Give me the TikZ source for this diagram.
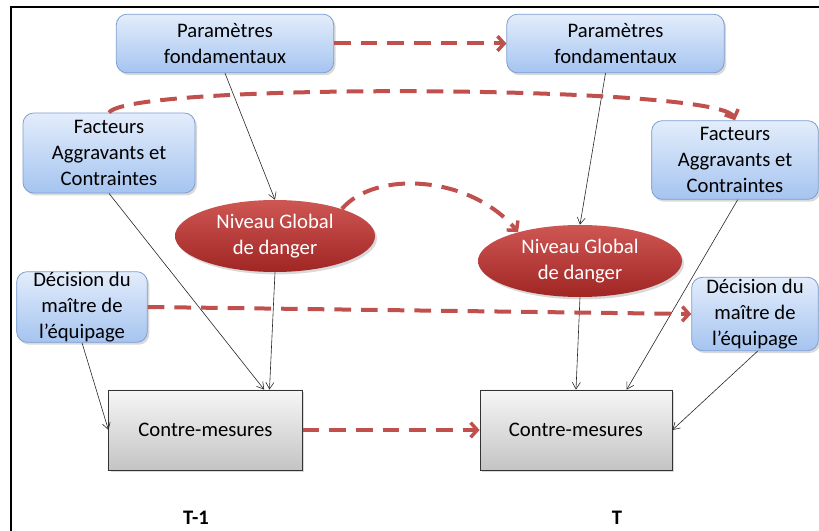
\documentclass[tikz,border=0pt]{standalone}
\usepackage{fontspec}
\setmainfont{Carlito}
\usepackage{tikz}
\usetikzlibrary{shapes,arrows.meta,positioning,shadows}

\definecolor{boxtop}{RGB}{227,237,251}
\definecolor{boxbot}{RGB}{165,196,240}
\definecolor{boxline}{RGB}{125,158,210}
\definecolor{elltop}{RGB}{206,86,83}
\definecolor{ellbot}{RGB}{160,38,36}
\definecolor{ctrtop}{RGB}{246,246,246}
\definecolor{ctrbot}{RGB}{196,196,196}
\definecolor{dashred}{RGB}{192,80,77}

\begin{document}
\begin{tikzpicture}[x=0.75pt,y=-0.75pt,
    txt/.style={font=\fontsize{15.5}{19.5}\selectfont, align=center, inner sep=0pt},
    bluebox/.style={txt, rectangle, rounded corners=8pt, draw=boxline, line width=0.6pt,
      top color=boxtop, bottom color=boxbot,
      drop shadow={shadow xshift=1.5pt, shadow yshift=-1.8pt, opacity=0.3}},
    dangerell/.style={txt, ellipse, draw=none, text=white,
      top color=elltop, bottom color=ellbot,
      drop shadow={shadow xshift=1.5pt, shadow yshift=-1.8pt, opacity=0.3}},
    ctrbox/.style={txt, rectangle, draw=black!80, line width=0.6pt,
      top color=ctrtop, bottom color=ctrbot,
      drop shadow={shadow xshift=1.5pt, shadow yshift=-1.8pt, opacity=0.3}},
    link/.style={draw=black!85, line width=0.45pt, -{Straight Barb[length=5pt,width=6pt]}},
    carry/.style={draw=dashred, line width=3pt, dash pattern=on 12.5pt off 7.5pt,
      -{Straight Barb[length=5pt,width=11pt,line width=2.6pt]}}]
          \useasboundingbox (0,0) rectangle (819,531);

          % frame lines (top and left only)
          \draw[line width=2pt] (11,531) -- (11,7) -- (819,7);

          % time step T-1
          \node[bluebox, minimum width=163pt, minimum height=44pt] (param1) at (225,43.5) {Paramètres\\fondamentaux};
          \node[bluebox, minimum width=129pt, minimum height=60pt] (fact1) at (109,153) {Facteurs\\Aggravants et\\Contraintes};
          \node[dangerell, minimum width=150pt, minimum height=54pt] (ell1) at (275,236) {Niveau Global\\de danger};
          \node[bluebox, minimum width=98pt, minimum height=53pt] (dec1) at (82,307) {Décision du\\maître de\\l’équipage};
          \node[ctrbox, minimum width=145pt, minimum height=60pt] (ctr1) at (205.5,430) {Contre-mesures};

          % time step T
          \node[bluebox, minimum width=163pt, minimum height=44pt] (param2) at (615.5,43.5) {Paramètres\\fondamentaux};
          \node[bluebox, minimum width=125pt, minimum height=59pt] (fact2) at (735,160) {Facteurs\\Aggravants et\\Contraintes};
          \node[dangerell, minimum width=153pt, minimum height=54pt] (ell2) at (580,261) {Niveau Global\\de danger};
          \node[bluebox, minimum width=95pt, minimum height=55pt] (dec2) at (755,314) {Décision du\\maître de\\l’équipage};
          \node[ctrbox, minimum width=144pt, minimum height=60pt] (ctr2) at (576,430) {Contre-mesures};

          % labels under the two steps
          \node[txt, font=\fontsize{15.5}{19.5}\selectfont\bfseries] (lab1) at (196,518) {T-1};
          \node[txt, font=\fontsize{15.5}{19.5}\selectfont\bfseries] (lab2) at (617,518) {T};

          % influences inside each step
          \draw[link] (param1.south) -- (ell1.north);
          \draw[link] (fact1.south) -- ([xshift=44pt]ctr1.north);
          \draw[link] (ell1.south) -- ([xshift=48pt]ctr1.north);
          \draw[link] (dec1.south) -- (ctr1.west);
          \draw[link] ([xshift=-7.5pt]param2.south) -- (ell2.north);
          \draw[link] ([xshift=2pt]fact2.south) -- ([xshift=38pt]ctr2.north);
          \draw[link] (ell2.south) -- (ctr2.north);
          \draw[link] ([xshift=2pt]dec2.south) -- (ctr2.east);

          % carry-over from T-1 to T
          \draw[carry] (param1.east) -- (param2.west);
          \draw[carry] (fact1.north) .. controls (130,82) and (720,85) .. (fact2.north);
          \draw[carry] (ell1.22) .. controls (375,170) and (470,175) .. (ell2.155);
          \draw[carry] (dec1.east) -- (dec2.west);
          \draw[carry] (ctr1.east) -- (ctr2.west);
        \end{tikzpicture}
\end{document}
